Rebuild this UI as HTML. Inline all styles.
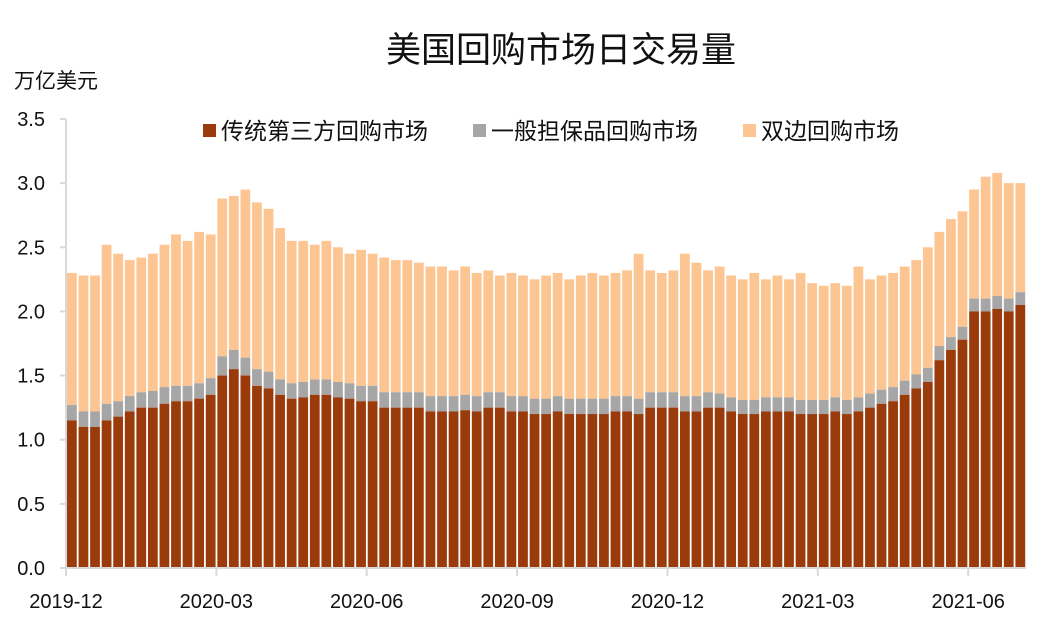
<!DOCTYPE html>
<html><head><meta charset="utf-8">
<style>
body{margin:0;background:#fff;}
svg text{font-family:"Liberation Sans","Noto Sans CJK SC",sans-serif;}
</style></head>
<body>
<svg id="chart" width="1046" height="627" viewBox="0 0 1046 627" xmlns="http://www.w3.org/2000/svg">
<rect width="1046" height="627" fill="#fff"/>
<text x="561" y="62" font-size="35" text-anchor="middle" fill="#111">美国回购市场日交易量</text>
<text x="14" y="88" font-size="21" fill="#111">万亿美元</text>
<g>
  <g><rect x="203" y="124" width="13" height="13" fill="#9b3a0a"/><text x="221" y="139" font-size="23" fill="#111">传统第三方回购市场</text></g>
  <g><rect x="473" y="124" width="13" height="13" fill="#a6a6a6"/><text x="491" y="139" font-size="23" fill="#111">一般担保品回购市场</text></g>
  <g><rect x="743" y="124" width="13" height="13" fill="#fcc591"/><text x="761" y="139" font-size="23" fill="#111">双边回购市场</text></g>
</g>
<g id="yaxis"></g>
<g id="bars"></g>
<g id="xaxis"></g>
</svg>
<script>
const totals=[2.30,2.28,2.28,2.52,2.45,2.40,2.42,2.45,2.52,2.60,2.55,2.62,2.60,
2.88,2.90,2.95,2.85,2.80,2.65,2.55,2.55,2.52,2.55,2.50,2.45,2.48,
2.45,2.42,2.40,2.40,2.38,2.35,2.35,2.32,2.35,2.30,2.32,2.28,2.30,
2.28,2.25,2.28,2.30,2.25,2.28,2.30,2.28,2.30,2.32,2.45,2.32,2.30,
2.32,2.45,2.38,2.32,2.35,2.28,2.25,2.30,2.25,2.28,2.25,2.30,2.22,
2.20,2.22,2.20,2.35,2.25,2.28,2.30,2.35,2.40,2.50,2.62,2.72,2.78,
2.95,3.05,3.08,3.00,3.00];
const triParty=[1.15,1.10,1.10,1.15,1.18,1.22,1.25,1.25,1.28,1.30,1.30,1.32,1.35,
1.50,1.55,1.50,1.42,1.40,1.35,1.32,1.33,1.35,1.35,1.33,1.32,1.30,
1.30,1.25,1.25,1.25,1.25,1.22,1.22,1.22,1.23,1.22,1.25,1.25,1.22,
1.22,1.20,1.20,1.22,1.20,1.20,1.20,1.20,1.22,1.22,1.20,1.25,1.25,
1.25,1.22,1.22,1.25,1.25,1.22,1.20,1.20,1.22,1.22,1.22,1.20,1.20,
1.20,1.22,1.20,1.22,1.25,1.28,1.30,1.35,1.40,1.45,1.62,1.70,1.78,
2.00,2.00,2.02,2.00,2.05];
const gcf=[0.12,0.12,0.12,0.13,0.12,0.12,0.12,0.13,0.13,0.12,0.12,0.12,0.13,
0.15,0.15,0.14,0.13,0.13,0.12,0.12,0.12,0.12,0.12,0.12,0.12,0.12,
0.12,0.12,0.12,0.12,0.12,0.12,0.12,0.12,0.12,0.12,0.12,0.12,0.12,
0.12,0.12,0.12,0.12,0.12,0.12,0.12,0.12,0.12,0.12,0.12,0.12,0.12,
0.12,0.12,0.12,0.12,0.11,0.11,0.11,0.11,0.11,0.11,0.11,0.11,0.11,
0.11,0.11,0.11,0.11,0.11,0.11,0.11,0.11,0.11,0.11,0.11,0.10,0.10,
0.10,0.10,0.10,0.10,0.10];
const yTicks=[0,0.5,1.0,1.5,2.0,2.5,3.0,3.5];
const xLabels=["2019-12","2020-03","2020-06","2020-09","2020-12","2021-03","2021-06"];
const xLabelWeek=[0,13,26,39,52,65,78];

const NS="http://www.w3.org/2000/svg";
const x0=66,x1=1026,y0=568,yTop=119,yMax=3.5;
const n=totals.length, bw=(x1-x0)/n;
const Y=v=>y0-(v/yMax)*(y0-yTop);
const X=i=>x0+i*bw;
function mk(tag,attrs,parent){const e=document.createElementNS(NS,tag);for(const k in attrs)e.setAttribute(k,attrs[k]);parent.appendChild(e);return e;}
const ya=document.getElementById('yaxis'),bars=document.getElementById('bars'),xa=document.getElementById('xaxis');
mk('line',{x1:x0,y1:yTop,x2:x0,y2:y0,stroke:'#d9d9d9','stroke-width':2},ya);
yTicks.forEach(v=>{
  const t=mk('text',{x:45,y:Y(v)+7,'font-size':20,'text-anchor':'end',fill:'#111'},ya);
  t.textContent=v.toFixed(1);
  
  
  mk('line',{x1:x0-6,y1:Y(v),x2:x0,y2:Y(v),stroke:'#d9d9d9','stroke-width':2},ya);
});
for(let i=0;i<n;i++){
  const g=mk('g',{},bars);
  
  
  const x=X(i)+1,w=bw-1.8;
  const tp=triParty[i],gc=tp+gcf[i],tot=totals[i];
  const r1=mk('rect',{x:x,y:Y(tot),width:w,height:Y(gc)-Y(tot),fill:'#fcc591'},g);
  
  
  const r2=mk('rect',{x:x,y:Y(gc),width:w,height:Y(tp)-Y(gc),fill:'#a6a6a6'},g);
  
  
  const r3=mk('rect',{x:x,y:Y(tp),width:w,height:y0-Y(tp),fill:'#9b3a0a'},g);
  
  
}
mk('line',{x1:x0-6,y1:y0,x2:x1,y2:y0,stroke:'#d9d9d9','stroke-width':2},xa);
xLabels.forEach((lab,k)=>{
  const x=X(xLabelWeek[k]);
  mk('line',{x1:x,y1:y0,x2:x,y2:y0+8,stroke:'#d9d9d9','stroke-width':2},xa);
  const t=mk('text',{x:x,y:608,'font-size':20,'text-anchor':'middle',fill:'#111'},xa);
  t.textContent=lab;
  
  
});
</script>
</body></html>
